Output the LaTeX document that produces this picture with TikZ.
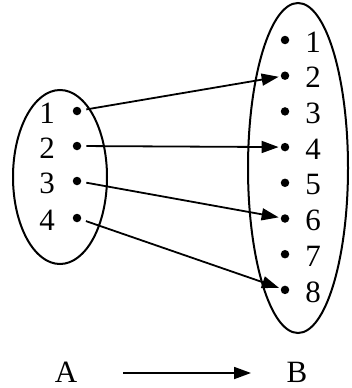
\documentclass[tikz,border=0pt]{standalone}
\usepackage{fontspec}
\setmainfont{Liberation Serif}
\usetikzlibrary{arrows.meta}
\begin{document}
\begin{tikzpicture}[x=1pt,y=-1pt,
  dot/.style={circle,fill=black,inner sep=0pt,minimum size=8.5pt},
  lbl/.style={font=\fontsize{31}{31}\selectfont,inner sep=0pt},
  setline/.style={line width=2pt},
  maparrow/.style={line width=1.8pt,-{Triangle[length=17pt,width=12pt]},shorten <=5pt,shorten >=2pt}]
\useasboundingbox (0,0) rectangle (351,388);
% ellipses
\draw[setline] (60,177) ellipse [x radius=47, y radius=87];
\draw[setline] (298,168) ellipse [x radius=50, y radius=165];
% left set
\foreach \i/\y in {1/111,2/146,3/181,4/218}{
  \node[dot] (a\i) at (77,\y) {};
  \node[lbl] (la\i) at (47,\y+2) {\i};
}
% right set
\foreach \i in {1,...,8}{
  \node[dot] (b\i) at (285,40+35.7*\i-35.7) {};
  \node[lbl] (lb\i) at (313,42+35.7*\i-35.7) {\i};
}
% mapping arrows
\draw[maparrow] (a1) -- (b2);
\draw[maparrow] (a2) -- (b4);
\draw[maparrow] (a3) -- (b6);
\draw[maparrow] (a4) -- (b8);
% bottom legend
\node[lbl,anchor=base,text depth=0pt] (A) at (66,382) {A};
\node[lbl,anchor=base,text depth=0pt] (B) at (297,382) {B};
\coordinate (s) at (123,373);
\coordinate (e) at (251,373);
\draw[line width=1.8pt,-{Triangle[length=17pt,width=12pt]}] (s) -- (e);
\end{tikzpicture}
\end{document}
